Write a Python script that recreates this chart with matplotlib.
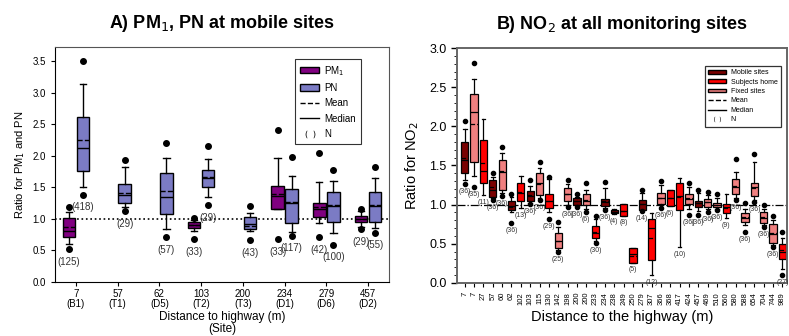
import matplotlib
matplotlib.use("Agg")
import matplotlib.pyplot as plt
from matplotlib.patches import Patch
from matplotlib.lines import Line2D
from matplotlib.ticker import MultipleLocator

plt.rcParams['font.family'] = ['Liberation Sans', 'DejaVu Sans']

# ---- panel A data: PM1 / PN ratios at mobile sites
sites = ['7\n(B1)', '57\n(T1)', '62\n(D5)', '103\n(T2)', '200\n(T3)', '234\n(D1)', '279\n(D6)', '457\n(D2)']
# None = no box for that site
pm1_wlo = [0.60, None, None, 0.80, None, 1.15, 0.93, 0.87]
pm1_q1 = [0.71, None, None, 0.85, None, 1.15, 1.03, 0.95]
pm1_med = [0.81, None, None, 0.90, None, 1.36, 1.16, 1.00]
pm1_mean = [0.87, None, None, 0.91, None, 1.40, 1.19, 0.99]
pm1_q3 = [1.01, None, None, 0.95, None, 1.52, 1.25, 1.05]
pm1_whi = [1.11, None, None, 0.98, None, 1.96, 1.58, 1.12]
pm1_fl = [[1.19, 0.52], None, None, [1.02, 0.68], None, [2.40, 0.68], [2.05, 0.71], [1.15, 0.84]]
pm1_n = [125, None, None, 33, None, 33, 42, 29]

pn_wlo = [1.50, 1.18, 0.84, 1.35, 0.80, 0.79, 0.78, 0.85]
pn_q1 = [1.76, 1.25, 1.08, 1.50, 0.84, 0.93, 0.95, 0.95]
pn_med = [2.12, 1.38, 1.35, 1.65, 0.92, 1.25, 1.20, 1.20]
pn_mean = [2.25, 1.41, 1.44, 1.66, 0.88, 1.26, 1.22, 1.22]
pn_q3 = [2.61, 1.55, 1.72, 1.77, 1.03, 1.47, 1.43, 1.42]
pn_whi = [3.13, 1.82, 1.97, 1.95, 1.10, 1.68, 1.60, 1.64]
pn_fl = [[3.50, 1.38], [1.93, 1.12], [2.20, 0.71], [2.15, 1.22], [1.20, 0.66],
         [1.98, 0.73], [1.77, 0.59], [1.82, 0.78]]
pn_n = [418, 29, 57, 29, 43, 117, 100, 55]

# ---- panel B data: NO2 ratios at all monitoring sites
no2_dist = ['7', '7', '27', '57', '60', '62', '102', '103', '115', '130', '142', '198', '200', '200',
            '233', '234', '238', '249', '250', '279', '307', '366', '368', '417', '424', '457',
            '469', '510', '560', '580', '588', '654', '704', '744', '989']
# M = mobile site, S = subjects home, F = fixed site
no2_type = ['M', 'F', 'S', 'M', 'F', 'M', 'S', 'M', 'F', 'S', 'F', 'F', 'M', 'F',
            'S', 'M', 'M', 'S', 'S', 'M', 'S', 'F', 'S', 'S', 'F', 'M',
            'F', 'F', 'S', 'F', 'F', 'F', 'F', 'F', 'S']
no2_wlo = [1.31, 1.37, 1.12, 1.08, 1.15, 0.90, 0.96, 1.02, 1.09, 0.90, 0.42, 1.00, 0.99, 0.95,
           0.53, 0.96, 0.88, 0.86, 0.26, 0.93, 0.10, 0.99, 0.98, 0.46, 0.95, 0.92,
           0.94, 0.95, 0.83, 1.08, 0.74, 1.06, 0.74, 0.48, 0.18]
no2_q1 = [1.40, 1.55, 1.28, 1.10, 1.19, 0.93, 1.05, 1.05, 1.12, 0.96, 0.44, 1.05, 1.00, 1.00,
          0.57, 0.98, 0.89, 0.86, 0.26, 0.93, 0.29, 1.01, 0.98, 0.93, 1.01, 0.97,
          0.97, 0.97, 0.89, 1.13, 0.78, 1.11, 0.77, 0.51, 0.31]
no2_med = [1.57, 2.18, 1.43, 1.19, 1.42, 0.98, 1.15, 1.11, 1.27, 1.04, 0.53, 1.13, 1.04, 1.04,
           0.64, 1.03, 0.91, 0.92, 0.37, 1.01, 0.70, 1.08, 1.09, 1.11, 1.07, 1.02,
           1.03, 1.00, 0.97, 1.23, 0.83, 1.22, 0.83, 0.63, 0.40]
no2_mean = [1.60, 2.03, 1.53, 1.22, 1.43, 0.97, 1.16, 1.12, 1.26, 1.05, 0.54, 1.14, 1.04, 1.06,
            0.65, 1.04, 0.91, 0.92, 0.35, 1.01, 0.57, 1.08, 1.09, 1.10, 1.08, 1.02,
            1.03, 1.00, 0.96, 1.24, 0.84, 1.21, 0.84, 0.64, 0.42]
no2_q3 = [1.80, 2.41, 1.83, 1.32, 1.57, 1.04, 1.27, 1.18, 1.40, 1.13, 0.64, 1.21, 1.08, 1.14,
          0.73, 1.07, 0.93, 1.01, 0.45, 1.06, 0.82, 1.15, 1.19, 1.27, 1.14, 1.05,
          1.07, 1.02, 1.01, 1.33, 0.89, 1.28, 0.90, 0.75, 0.50]
no2_whi = [1.97, 2.60, 2.10, 1.35, 1.66, 1.10, 1.37, 1.24, 1.47, 1.33, 0.72, 1.26, 1.10, 1.19,
           0.82, 1.21, 0.94, 1.01, 0.45, 1.15, 0.89, 1.25, 1.19, 1.34, 1.22, 1.15,
           1.12, 1.08, 1.13, 1.42, 0.95, 1.55, 0.95, 0.80, 0.58]
no2_fl = [[2.07, 1.26], [2.81, 1.23], [], [1.40, 1.06], [1.74, 1.11], [1.14, 0.77], [], [1.31, 1.01],
          [1.55, 1.06], [1.35, 0.81], [0.78, 0.39], [1.31, 0.97], [1.14, 0.97], [1.28, 0.91],
          [0.86, 0.51], [1.29, 0.93], [], [], [], [1.19, 0.92], [], [1.30, 0.96], [], [],
          [1.27, 0.87], [1.19, 0.87], [1.16, 0.90], [1.13, 0.93], [], [1.58, 1.06],
          [1.02, 0.65], [1.65, 1.03], [1.00, 0.71], [0.85, 0.46], [0.65, 0.10]]
no2_n = [36, 35, 11, 36, 36, 36, 13, 36, 36, 29, 25, 36, 36, 6,
         30, 36, 4, 8, 5, 14, 12, 36, 6, 10, 36, 36,
         36, 36, 9, 36, 36, 36, 36, 36, 27]

pm1_color = '#800080'
pn_color = '#7b7bc4'
type_colors = {'M': '#7a0000', 'S': '#ff0000', 'F': '#f08080'}
type_names = {'M': 'Mobile sites', 'S': 'Subjects home', 'F': 'Fixed sites'}


def make_stats(wlo, q1, med, mean, q3, whi, fl):
    return dict(whislo=wlo, q1=q1, med=med, mean=mean, q3=q3, whishi=whi, fliers=fl)


def draw_box(ax, stats, pos, width, color, lw=1.0, ms=4):
    ax.bxp([stats], positions=[pos], widths=width, patch_artist=True,
           showmeans=True, meanline=True, manage_ticks=False,
           boxprops=dict(facecolor=color, edgecolor='black', linewidth=lw),
           medianprops=dict(color='black', linewidth=lw),
           meanprops=dict(color='black', linestyle='--', linewidth=lw),
           whiskerprops=dict(color='black', linewidth=lw),
           capprops=dict(color='black', linewidth=lw),
           flierprops=dict(marker='o', markerfacecolor='black', markeredgecolor='black',
                           markersize=ms, linestyle='none'))


fig = plt.figure(figsize=(7.89, 3.36), dpi=100)
axA = fig.add_axes([0.0697, 0.1607, 0.4233, 0.6993])
axB = fig.add_axes([0.579, 0.158, 0.418, 0.699])

# ---------- panel A
off = 0.17
bw = 0.3
for i in range(len(sites)):
    if pm1_med[i] is not None:
        st = make_stats(pm1_wlo[i], pm1_q1[i], pm1_med[i], pm1_mean[i], pm1_q3[i], pm1_whi[i], pm1_fl[i])
        draw_box(axA, st, i - off, bw, pm1_color)
        low = min([pm1_wlo[i]] + pm1_fl[i])
        axA.text(i - off, low - 0.12, '(%d)' % pm1_n[i], ha='center', va='top', fontsize=7, color='#333333')
    st = make_stats(pn_wlo[i], pn_q1[i], pn_med[i], pn_mean[i], pn_q3[i], pn_whi[i], pn_fl[i])
    draw_box(axA, st, i + off, bw, pn_color)
    low = min([pn_wlo[i]] + pn_fl[i])
    axA.text(i + off, low - 0.12, '(%d)' % pn_n[i], ha='center', va='top', fontsize=7, color='#333333')

axA.axhline(1.0, color='black', linestyle=':', linewidth=1.2, zorder=0)
axA.set_xlim(-0.5, len(sites) - 0.5)
axA.set_ylim(0, 3.72)
axA.set_yticks([0.0, 0.5, 1.0, 1.5, 2.0, 2.5, 3.0, 3.5])
axA.set_xticks(range(len(sites)))
axA.set_xticklabels(sites, fontsize=7, linespacing=0.95)
axA.tick_params(axis='y', labelsize=7, direction='out', length=3)
axA.tick_params(axis='x', direction='out', length=3, pad=2)
axA.set_ylabel('Ratio for PM$_1$ and PN', fontsize=8, labelpad=4)
axA.set_xlabel('Distance to highway (m)\n(Site)', fontsize=8.5, labelpad=2, linespacing=0.95)
axA.set_title('A) PM$_1$, PN at mobile sites', fontsize=13, fontweight='bold', pad=14)
for sp in axA.spines.values():
    sp.set_color('#555555')
axA.spines['left'].set_color('black')
axA.spines['bottom'].set_color('black')

hA = [Patch(facecolor=pm1_color, edgecolor='black', label='PM$_1$'),
      Patch(facecolor=pn_color, edgecolor='black', label='PN'),
      Line2D([], [], color='black', linestyle='--', linewidth=1, label='Mean'),
      Line2D([], [], color='black', linestyle='-', linewidth=1, label='Median'),
      Line2D([], [], color='black', marker='$(\\;\\;)$', linestyle='none', markersize=7,
             markeredgewidth=0, label='N')]
legA = axA.legend(handles=hA, loc='upper right', bbox_to_anchor=(0.93, 0.97), fontsize=7,
                  frameon=True, fancybox=False, edgecolor='black', handlelength=2.0,
                  handleheight=0.6, labelspacing=0.55, borderpad=0.5, handletextpad=0.5)
legA.get_frame().set_linewidth(0.8)

# ---------- panel B
for i in range(len(no2_dist)):
    st = make_stats(no2_wlo[i], no2_q1[i], no2_med[i], no2_mean[i], no2_q3[i], no2_whi[i], no2_fl[i])
    draw_box(axB, st, i, 0.78, type_colors[no2_type[i]], lw=0.9, ms=3)
    low = min([no2_wlo[i]] + no2_fl[i])
    axB.text(i, low - 0.05, '(%d)' % no2_n[i], ha='center', va='top', fontsize=5, color='#333333')

axB.axhline(1.0, color='black', linestyle='-.', linewidth=0.9, zorder=0)
axB.set_xlim(-0.85, len(no2_dist) - 0.55)
axB.set_ylim(0, 3.0)
axB.set_yticks([0.0, 0.5, 1.0, 1.5, 2.0, 2.5, 3.0])
axB.yaxis.set_minor_locator(MultipleLocator(0.1))
axB.set_xticks(range(len(no2_dist)))
axB.set_xticklabels(no2_dist, rotation=90, fontsize=5.5)
axB.tick_params(axis='y', labelsize=9, direction='out', length=4, width=1)
axB.tick_params(axis='y', which='minor', direction='out', length=2)
axB.tick_params(axis='x', direction='out', length=3)
axB.set_ylabel('Ratio for NO$_2$', fontsize=10.5, labelpad=6)
axB.set_xlabel('Distance to the highway (m)', fontsize=10.5, labelpad=4)
axB.set_title('B) NO$_2$ at all monitoring sites', fontsize=13, fontweight='bold', pad=14)
for sp in axB.spines.values():
    sp.set_color('#666666')
    sp.set_linewidth(1.4)

hB = [Patch(facecolor=type_colors[k], edgecolor='black', label=type_names[k]) for k in ['M', 'S', 'F']]
hB += [Line2D([], [], color='black', linestyle='--', linewidth=1, label='Mean'),
       Line2D([], [], color='black', linestyle='-', linewidth=1, label='Median'),
       Line2D([], [], color='black', marker='$(\\;\\;)$', linestyle='none', markersize=5,
              markeredgewidth=0, label='N')]
legB = axB.legend(handles=hB, loc='upper right', bbox_to_anchor=(0.993, 0.94), fontsize=5,
                  frameon=True, fancybox=False, edgecolor='black', handlelength=2.6,
                  handleheight=0.5, labelspacing=0.35, borderpad=0.5, handletextpad=0.6)
legB.get_frame().set_linewidth(0.9)

fig.savefig('out.png', dpi=100)
